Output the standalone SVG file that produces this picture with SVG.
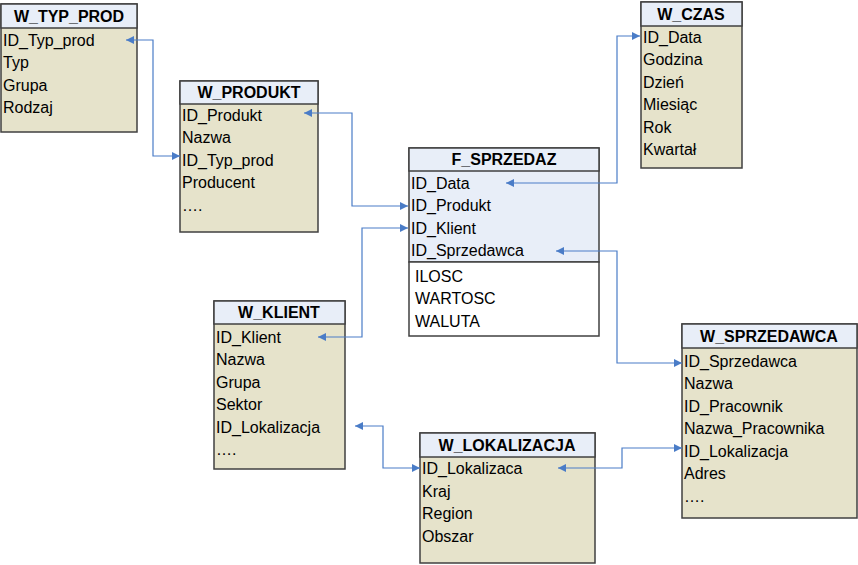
<svg xmlns="http://www.w3.org/2000/svg" width="858" height="565" viewBox="0 0 858 565">
<defs>
<marker id="a" viewBox="0 0 10 10" refX="10" refY="5" markerWidth="14" markerHeight="8" markerUnits="userSpaceOnUse" orient="auto-start-reverse"><path d="M0,0L10,5L0,10z" fill="#4a7cc7"/></marker>
</defs>
<style>
.b{fill:#e6e3cb;stroke:#404040;stroke-width:1.5}
.f{fill:#e8eef8;stroke:#404040;stroke-width:1.5}
.w{fill:#fff;stroke:#404040;stroke-width:1.5}
.h{fill:#e8eef8;stroke:#404040;stroke-width:1.5}
text{font-family:"Liberation Sans",Arial,sans-serif;font-size:16px;fill:#000}
.t{font-weight:bold;text-anchor:middle}
.c path{fill:none;stroke:#4a7cc7;stroke-width:1.2;marker-start:url(#a);marker-end:url(#a)}
</style>
<rect x="0" y="0" width="858" height="565" fill="#fff"/>
<g id="W_TYP_PROD"><rect class="b" x="1" y="4" width="136" height="128"/><rect class="h" x="1" y="4" width="136" height="24"/>
<text class="t" x="69" y="22">W_TYP_PROD</text>
<text x="3" y="46">ID_Typ_prod</text><text x="3" y="68">Typ</text><text x="3" y="91">Grupa</text><text x="3" y="113">Rodzaj</text></g>
<g id="W_PRODUKT"><rect class="b" x="180" y="81" width="138" height="151"/><rect class="h" x="180" y="81" width="138" height="23"/>
<text class="t" x="249" y="98">W_PRODUKT</text>
<text x="182" y="121">ID_Produkt</text><text x="182" y="143">Nazwa</text><text x="182" y="166">ID_Typ_prod</text><text x="182" y="188">Producent</text><text x="182" y="211">….</text></g>
<g id="F_SPRZEDAZ"><rect class="f" x="409" y="148" width="190" height="114"/><rect class="w" x="409" y="262" width="190" height="74"/><rect class="h" x="409" y="148" width="190" height="23"/>
<text class="t" x="504" y="165">F_SPRZEDAZ</text>
<text x="411" y="189">ID_Data</text><text x="411" y="211">ID_Produkt</text><text x="411" y="234">ID_Klient</text><text x="411" y="256">ID_Sprzedawca</text>
<text x="415" y="282">ILOSC</text><text x="415" y="304">WARTOSC</text><text x="415" y="327">WALUTA</text></g>
<g id="W_CZAS"><rect class="b" x="641" y="2" width="101" height="166"/><rect class="h" x="641" y="2" width="101" height="24"/>
<text class="t" x="691" y="20">W_CZAS</text>
<text x="643" y="43">ID_Data</text><text x="643" y="65">Godzina</text><text x="643" y="88">Dzień</text><text x="643" y="110">Miesiąc</text><text x="643" y="133">Rok</text><text x="643" y="155">Kwartał</text></g>
<g id="W_KLIENT"><rect class="b" x="214" y="301" width="131" height="168"/><rect class="h" x="214" y="301" width="131" height="23"/>
<text class="t" x="279" y="318">W_KLIENT</text>
<text x="216" y="343">ID_Klient</text><text x="216" y="365">Nazwa</text><text x="216" y="388">Grupa</text><text x="216" y="410">Sektor</text><text x="216" y="433">ID_Lokalizacja</text><text x="216" y="455">….</text></g>
<g id="W_LOKALIZACJA"><rect class="b" x="420" y="433" width="175" height="130"/><rect class="h" x="420" y="433" width="175" height="24"/>
<text class="t" x="507" y="451">W_LOKALIZACJA</text>
<text x="422" y="474">ID_Lokalizaca</text><text x="422" y="497">Kraj</text><text x="422" y="519">Region</text><text x="422" y="542">Obszar</text></g>
<g id="W_SPRZEDAWCA"><rect class="b" x="682" y="324" width="175" height="194"/><rect class="h" x="682" y="324" width="175" height="24"/>
<text class="t" x="769" y="342">W_SPRZEDAWCA</text>
<text x="684" y="367">ID_Sprzedawca</text><text x="684" y="389">Nazwa</text><text x="684" y="412">ID_Pracownik</text><text x="684" y="434">Nazwa_Pracownika</text><text x="684" y="457">ID_Lokalizacja</text><text x="684" y="479">Adres</text><text x="684" y="502">….</text></g>
<g class="c" id="connectors">
<path d="M126,40H153V156H180"/>
<path d="M304,113H352V206H408"/>
<path d="M318,337H362V228H408"/>
<path d="M640,36H617V183H506"/>
<path d="M556,251H617V363H682"/>
<path d="M355,426H383V468H420"/>
<path d="M558,468H622V448H682"/>
</g>
</svg>
